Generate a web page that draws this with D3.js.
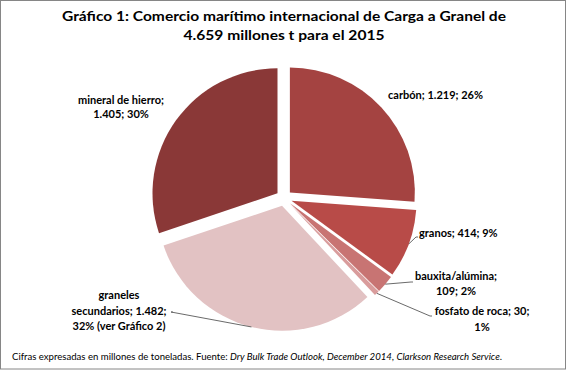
<!DOCTYPE html>
<html>
<head>
<meta charset="utf-8">
<script src="https://cdn.jsdelivr.net/npm/d3@7"></script>
<style>
  html, body { margin: 0; padding: 0; background: #fff; }
  svg { display: block; font-family: Lato, "Open Sans", sans-serif; }
</style>
</head>
<body>
<svg id="chart" width="569" height="371"></svg>
<script>
'use strict';

// data (millones de t)
const categories = ['carbón', 'granos', 'bauxita/alúmina', 'fosfato de roca', 'graneles secundarios', 'mineral de hierro'];
const values = [1219, 414, 109, 30, 1482, 1405];
const percents = [26, 9, 2, 1, 32, 30];
const labelLines = [
  ['carbón; 1.219; 26%'],
  ['granos; 414; 9%'],
  ['bauxita/alúmina;', '109; 2%'],
  ['fosfato de roca; 30;', '1%'],
  ['graneles', 'secundarios;  1.482;', '32% (ver Gráfico 2)'],
  ['mineral de hierro;', '1.405; 30%']
];
const titleLines = ['Gráfico 1: Comercio marítimo internacional de Carga a Granel de', '4.659 millones t para el 2015'];

// layout
const colors = ['#a44341', '#b84b48', '#c87473', '#d99c9c', '#e2c2c3', '#8a3837'];
const labelLayout = [
  {x: 388, y: 99, anchor: 'start', lh: 15, lead: null},
  {x: 419, y: 237, anchor: 'start', lh: 15, lead: [418, 237]},
  {x: 456, y: 280, anchor: 'middle', lh: 15, lead: [413, 282]},
  {x: 482, y: 315, anchor: 'middle', lh: 16, lead: [432, 316]},
  {x: 119, y: 299, anchor: 'middle', lh: 15.5, lead: [173, 312]},
  {x: 121, y: 104, anchor: 'middle', lh: 14, lead: null}
];
const cx = 284, cy = 198, radius = 125, explode = 8;

const svg = d3.select('#chart');

svg.append('rect')
    .attr('x', 0.5)
    .attr('y', 0.5)
    .attr('width', 565)
    .attr('height', 368.5)
    .style('fill', '#fff')
    .style('stroke', '#868686')
    .style('stroke-width', 1);

svg.selectAll('.title')
    .data(titleLines)
  .enter().append('text')
    .attr('class', 'title')
    .attr('x', 284)
    .attr('y', (d, i) => 21 + i * 19)
    .attr('text-anchor', 'middle')
    .attr('textLength', (d, i) => i === 0 ? 444 : 201)
    .attr('lengthAdjust', 'spacingAndGlyphs')
    .style('font-size', '14px')
    .style('font-weight', 'bold')
    .style('fill', '#000')
    .text(d => d);

const pie = d3.pie()
    .sort(null)
    .value(d => d)
    .startAngle(0)
    .endAngle(2 * Math.PI);

const arcs = pie(values);

const arc = d3.arc()
    .innerRadius(0)
    .outerRadius(radius);

const shift = a => {
  const m = (a.startAngle + a.endAngle) / 2;
  return [Math.sin(m) * explode, -Math.cos(m) * explode];
};

const g = svg.append('g')
    .attr('transform', `translate(${cx}, ${cy})`);

g.selectAll('.slice')
    .data(arcs)
  .enter().append('path')
    .attr('class', 'slice')
    .attr('d', arc)
    .attr('transform', d => `translate(${shift(d)[0]}, ${shift(d)[1]})`)
    .style('fill', (d, i) => colors[i]);

// leader lines
arcs.forEach((a, i) => {
  const lay = labelLayout[i];
  if (!lay.lead) return;
  const m = (a.startAngle + a.endAngle) / 2;
  const r = radius + explode;
  const x0 = cx + Math.sin(m) * r;
  const y0 = cy - Math.cos(m) * r;
  svg.append('polyline')
      .attr('points', `${x0},${y0} ${lay.lead[0] - 2},${lay.lead[1]} ${lay.lead[0]},${lay.lead[1]}`)
      .style('fill', 'none')
      .style('stroke', '#595959')
      .style('stroke-width', 0.9);
});

const labels = svg.selectAll('.label')
    .data(labelLines)
  .enter().append('text')
    .attr('class', 'label')
    .attr('text-anchor', (d, i) => labelLayout[i].anchor)
    .style('font-size', '11px')
    .style('font-weight', 'bold')
    .style('fill', '#000');

labels.each(function(lines, i) {
  const lay = labelLayout[i];
  d3.select(this).selectAll('tspan')
      .data(lines)
    .enter().append('tspan')
      .attr('x', lay.x)
      .attr('y', (d, j) => lay.y + j * lay.lh)
      .text(d => d);
});

const foot = svg.append('text')
    .attr('x', 12)
    .attr('y', 360)
    .attr('textLength', 490)
    .attr('lengthAdjust', 'spacingAndGlyphs')
    .style('font-size', '9.5px')
    .style('fill', '#000');
foot.append('tspan').text('Cifras expresadas  en millones de toneladas.  Fuente: ');
foot.append('tspan').style('font-style', 'italic').text('Dry Bulk Trade Outlook, December  2014');
foot.append('tspan').text(', ');
foot.append('tspan').style('font-style', 'italic').text('Clarkson Research Service');
foot.append('tspan').text('.');
</script>
</body>
</html>
